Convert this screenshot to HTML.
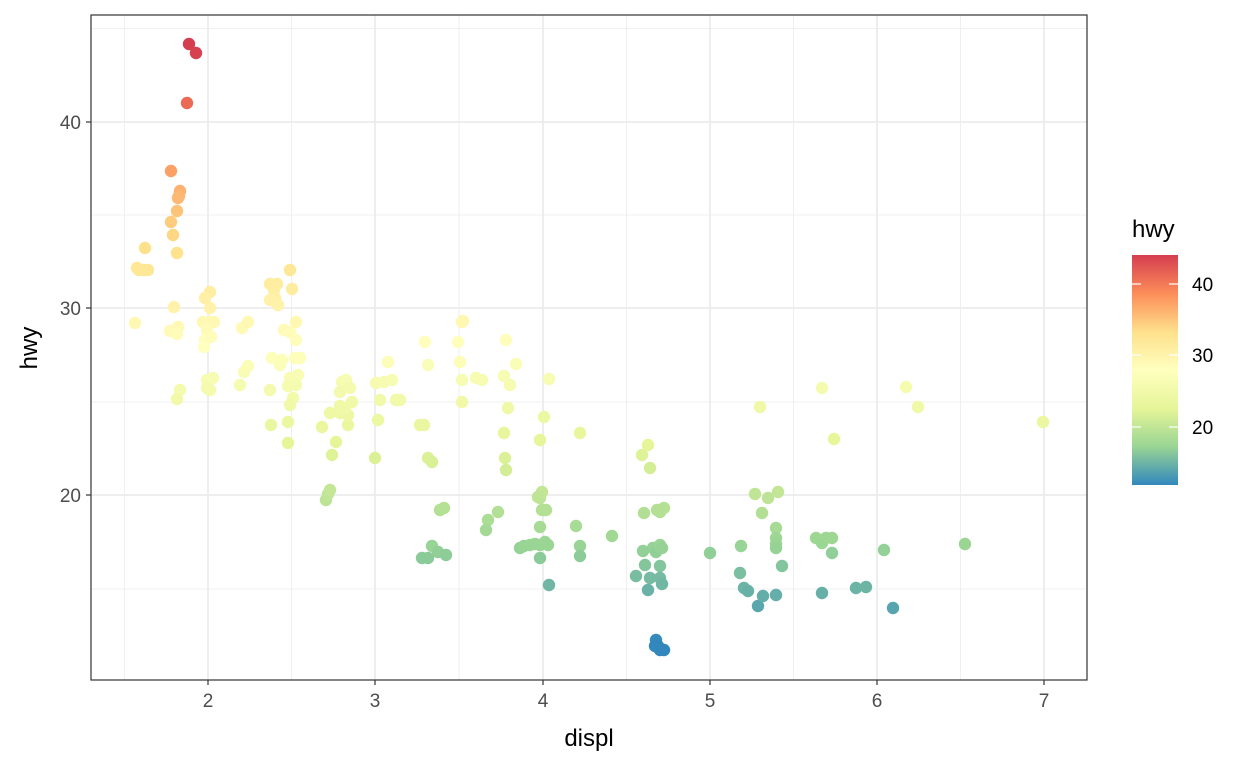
<!DOCTYPE html>
<html><head><meta charset="utf-8"><style>
body{margin:0;background:#fff}
svg text{font-family:"Liberation Sans",Arial,sans-serif}
</style></head><body>
<svg id="s" width="1248" height="768" xmlns="http://www.w3.org/2000/svg">
<defs><linearGradient id="g" x1="0" y1="1" x2="0" y2="0">
<stop offset="0" stop-color="#3288BD"/><stop offset="0.1667" stop-color="#99D594"/><stop offset="0.3333" stop-color="#E6F598"/><stop offset="0.5" stop-color="#FFFFBF"/><stop offset="0.6667" stop-color="#FEE08B"/><stop offset="0.8333" stop-color="#FC8D59"/><stop offset="1" stop-color="#D53E4F"/>
</linearGradient></defs>
<rect x="91" y="15" width="996" height="665" fill="#fff"/>
<g id="grid"></g>
<g id="pts"></g>
<rect x="91" y="15" width="996" height="665" fill="none" stroke="#333" stroke-width="1.2"/>
<g font-size="19" fill="#4d4d4d" text-anchor="end">
<text x="81" y="129">40</text><text x="81" y="315">30</text><text x="81" y="502">20</text></g>
<g font-size="19" fill="#4d4d4d" text-anchor="middle">
<text x="208" y="707">2</text><text x="375" y="707">3</text><text x="543" y="707">4</text><text x="710" y="707">5</text><text x="877" y="707">6</text><text x="1044" y="707">7</text></g>
<g stroke="#333" stroke-width="1.2">
<line x1="86" x2="91" y1="122" y2="122"/><line x1="86" x2="91" y1="308" y2="308"/><line x1="86" x2="91" y1="495" y2="495"/>
<line x1="208" x2="208" y1="680" y2="685"/><line x1="375" x2="375" y1="680" y2="685"/><line x1="543" x2="543" y1="680" y2="685"/><line x1="710" x2="710" y1="680" y2="685"/><line x1="877" x2="877" y1="680" y2="685"/><line x1="1044" x2="1044" y1="680" y2="685"/></g>
<text x="589" y="746" font-size="24" text-anchor="middle">displ</text>
<text transform="translate(37,348) rotate(-90)" font-size="24" text-anchor="middle">hwy</text>
<text x="1132" y="237" font-size="24">hwy</text>
<rect x="1132" y="255" width="46" height="230" fill="url(#g)"/>
<g stroke="#fff" stroke-width="1.2">
<line x1="1132" x2="1141" y1="284" y2="284"/><line x1="1169" x2="1178" y1="284" y2="284"/>
<line x1="1132" x2="1141" y1="355" y2="355"/><line x1="1169" x2="1178" y1="355" y2="355"/>
<line x1="1132" x2="1141" y1="427" y2="427"/><line x1="1169" x2="1178" y1="427" y2="427"/></g>
<g font-size="19"><text x="1192" y="291">40</text><text x="1192" y="362">30</text><text x="1192" y="434">20</text></g>
</svg>
<script>
var ns="http://www.w3.org/2000/svg",g=document.getElementById("grid"),p=document.getElementById("pts");
function L(x1,y1,x2,y2,w){var l=document.createElementNS(ns,"line");l.setAttribute("x1",x1);l.setAttribute("y1",y1);l.setAttribute("x2",x2);l.setAttribute("y2",y2);l.setAttribute("stroke","#ebebeb");l.setAttribute("stroke-width",w);g.appendChild(l);}
[28.5,215,402,589].forEach(function(y){L(91,y,1087,y,0.8)});
[122,308,495].forEach(function(y){L(91,y,1087,y,1.7)});
[124.5,291.5,459,626.5,793.5,960.5].forEach(function(x){L(x,15,x,680,0.8)});
[208,375,543,710,877,1044].forEach(function(x){L(x,15,x,680,1.7)});
var st=[[0,[50,136,189]],[1/6,[153,213,148]],[2/6,[230,245,152]],[3/6,[255,255,191]],[4/6,[254,224,139]],[5/6,[252,141,89]],[1,[213,62,79]]];
function col(v){var t=(v-12)/32;t=Math.max(0,Math.min(1,t));for(var i=0;i<6;i++){if(t<=st[i+1][0]){var f=(t-st[i][0])/(st[i+1][0]-st[i][0]);var a=st[i][1],b=st[i+1][1];return "rgb("+[0,1,2].map(function(k){return Math.round(a[k]+(b[k]-a[k])*f)}).join(",")+")";}}return "rgb(213,62,79)";}
var P=[[189,44],[196,53],[187,103],[171,171],[180,191],[179,196],[178,198],[177,211],[171,222],[173,235],[177,253],[145,248],[137,268],[144,270],[148,270],[139,270],[135,323],[174,307],[170,331],[178,327],[177,334],[180,390],[177,399],[290,270],[292,289],[270,284],[277,284],[274,290],[275,298],[278,305],[210,292],[210,308],[203,322],[210,322],[214,322],[207,330],[205,340],[211,337],[204,347],[207,380],[210,390],[207,388],[213,378],[242,328],[248,322],[240,385],[244,372],[248,366],[272,358],[280,365],[282,360],[270,390],[271,425],[288,422],[288,443],[284,330],[290,332],[296,322],[296,340],[295,358],[298,375],[290,378],[288,386],[293,398],[290,405],[296,385],[326,500],[328,494],[330,490],[322,427],[332,455],[330,413],[340,413],[336,442],[340,406],[342,382],[346,380],[340,392],[350,388],[352,402],[348,425],[348,415],[375,458],[378,420],[380,400],[384,382],[376,383],[388,362],[392,380],[396,400],[400,400],[425,342],[428,365],[420,425],[424,425],[428,458],[432,462],[422,558],[428,558],[432,546],[438,552],[446,555],[440,510],[444,508],[462,322],[458,342],[460,362],[462,380],[462,402],[476,378],[482,380],[504,376],[510,385],[506,340],[516,364],[508,408],[504,433],[505,458],[506,470],[498,512],[488,520],[486,530],[520,548],[524,546],[530,545],[535,544],[540,545],[545,542],[548,545],[540,558],[540,498],[542,492],[538,497],[544,417],[540,440],[542,510],[540,527],[546,510],[549,585],[549,379],[580,433],[576,526],[580,546],[580,556],[612,536],[636,576],[645,565],[650,578],[642,455],[648,445],[650,468],[644,513],[648,590],[653,548],[656,552],[660,545],[662,548],[643,551],[660,512],[664,508],[657,510],[660,566],[660,578],[662,584],[656,640],[658,646],[660,650],[664,650],[655,646],[710,553],[741,546],[740,573],[744,588],[748,591],[758,606],[763,596],[776,595],[760,407],[755,494],[768,498],[762,513],[778,492],[776,528],[776,538],[776,544],[776,548],[782,566],[816,538],[822,543],[826,538],[832,538],[832,553],[822,593],[822,388],[834,439],[856,588],[866,587],[884,550],[893,608],[906,387],[918,407],[965,544],[1043,422],[463,321],[270,300],[300,358],[205,298],[345,408]];
P.forEach(function(q){var c=document.createElementNS(ns,"circle");c.setAttribute("cx",q[0]);c.setAttribute("cy",q[1]);c.setAttribute("r",6.2);c.setAttribute("fill",col(20+(495-q[1])/18.65));p.appendChild(c);});
</script>
</body></html>
